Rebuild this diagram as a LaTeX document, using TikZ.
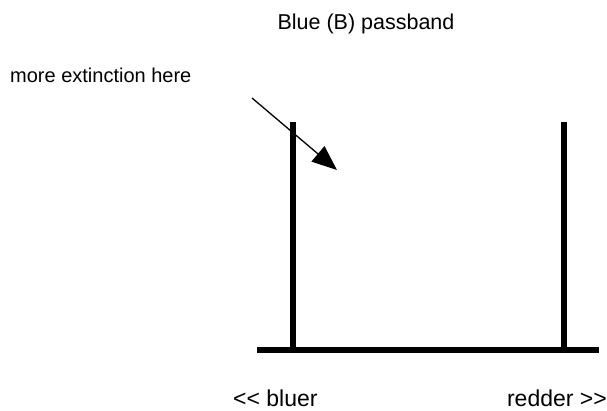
\documentclass[tikz,border=0pt]{standalone}
\usepackage{fontspec}
\setmainfont{Liberation Sans}
\usetikzlibrary{arrows.meta}

\begin{document}
\begin{tikzpicture}[x=1pt, y=-1pt, every node/.style={font=\fontsize{20}{24}\selectfont, inner sep=0pt}]
  \useasboundingbox (0,0) rectangle (607,410);

  \node (title) [anchor=base, font=\fontsize{21.5}{26}\selectfont] at (366,29) {Blue (B) passband};
  \node (note) [anchor=base west] at (10,82) {more extinction here};
  \node (blue) [anchor=base west, font=\fontsize{23}{27}\selectfont] at (233,406) {{<}{<} bluer};
  \node (red) [anchor=base east, font=\fontsize{23}{27}\selectfont] at (607,406) {redder {>}{>}};

  \coordinate (base1) at (257,350);
  \coordinate (base2) at (599,350);
  \coordinate (edge1) at (293,122);
  \coordinate (edge2) at (564,122);
  \coordinate (from) at (252,98);
  \coordinate (to) at (337,170);

  \draw[line width=6pt] (base1) -- (base2);
  \draw[line width=5.5pt] (edge1) -- (edge1 |- base1);
  \draw[line width=5.5pt] (edge2) -- (edge2 |- base1);

  \draw[line width=1.3pt, -{Triangle[length=25pt, width=20pt]}] (from) -- (to);
\end{tikzpicture}
\end{document}
